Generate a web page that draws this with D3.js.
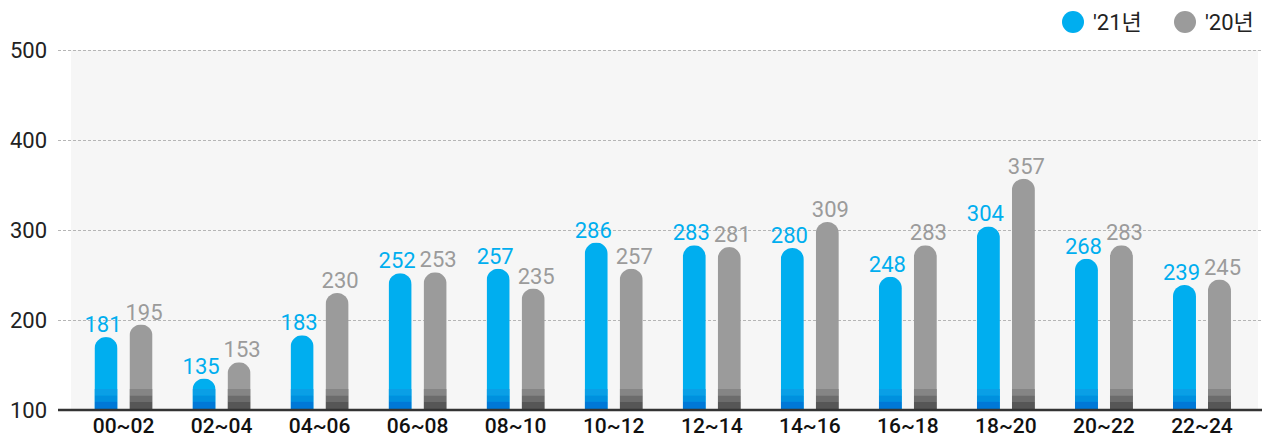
<!DOCTYPE html>
<html>
<head>
<meta charset="utf-8">
<script src="https://cdn.jsdelivr.net/npm/d3@7"></script>
<style>
  body { margin: 0; background: #fff; }
  text { font-family: Roboto, "Noto Sans CJK KR", sans-serif; }
</style>
</head>
<body>
<div id="chart-area"></div>
<script>
// data
let hours = ["00~02","02~04","04~06","06~08","08~10","10~12","12~14","14~16","16~18","18~20","20~22","22~24"];
let y21 = [181,135,183,252,257,286,283,280,248,304,268,239];
let y20 = [195,153,230,253,235,257,281,309,283,357,283,245];
let yTicks = [100,200,300,400,500];
let seriesNames = ["'21년", "'20년"];

let width = 1267, height = 439;

let svg = d3.select("#chart-area").append("svg")
    .attr("width", width)
    .attr("height", height);

// scales
let x = d3.scaleBand()
    .domain(hours)
    .range([74.5, 1251]);

let y = d3.scaleLinear()
    .domain([100, 500])
    .range([410, 50]);

let barW = 23, gap = 12;

// plot background
svg.append("rect")
    .attr("x", 71).attr("y", y(500))
    .attr("width", 1258 - 71).attr("height", y(100) - y(500))
    .attr("fill", "#f6f6f6");

// grid
svg.selectAll(".grid")
    .data(yTicks.filter(d => d > 100))
    .enter().append("line")
    .attr("x1", 58).attr("x2", 1262)
    .attr("y1", d => y(d) + 0.5).attr("y2", d => y(d) + 0.5)
    .attr("stroke", "#b5b5b5")
    .attr("stroke-dasharray", "3,2");

// y axis labels
let yAxis = d3.axisLeft(y).tickValues(yTicks).tickSize(0).tickPadding(0);
let yG = svg.append("g").attr("transform", "translate(47,0)").call(yAxis);
yG.select(".domain").remove();
yG.selectAll("text")
    .style("font-size", "22px")
    .style("font-family", "Roboto, sans-serif")
    .attr("fill", "#222");

// bar shape with rounded top
function barPath(x0, top, bottom, w) {
  let r = w / 2;
  return "M" + x0 + "," + bottom +
    "V" + (top + r) +
    "A" + r + "," + r + " 0 0 1 " + (x0 + w) + "," + (top + r) +
    "V" + bottom + "Z";
}

let series = [
  {vals: y21, off: -gap / 2 - barW, shift: -3, fill: "#00aeef", label: "#00aeef", bands: ["#0a9fe6", "#0090de", "#0078d7"]},
  {vals: y20, off: gap / 2, shift: 3, fill: "#9b9b9b", label: "#9b9b9b", bands: ["#858585", "#6c6c6c", "#565656"]}
];
let bandEdges = [389, 395.5, 401.5, 410];

series.forEach((s, si) => {
  let g = svg.append("g");
  hours.forEach((h, i) => {
    let cx = x(h) + x.bandwidth() / 2 + s.off;
    let top = y(s.vals[i]);
    let id = "clip" + si + "_" + i;
    svg.append("clipPath").attr("id", id)
      .append("path").attr("d", barPath(cx, top, y(100), barW));
    let bg = g.append("g").attr("clip-path", "url(#" + id + ")");
    bg.append("rect")
      .attr("x", cx).attr("y", top)
      .attr("width", barW).attr("height", y(100) - top)
      .attr("fill", s.fill);
    s.bands.forEach((c, k) => {
      bg.append("rect")
        .attr("x", cx).attr("y", bandEdges[k])
        .attr("width", barW).attr("height", bandEdges[k + 1] - bandEdges[k])
        .attr("fill", c);
    });
    g.append("text")
      .attr("x", cx + barW / 2 + s.shift)
      .attr("y", top - 5)
      .attr("text-anchor", "middle")
      .attr("fill", s.label)
      .style("font-size", "22px")
      .text(s.vals[i]);
  });
});

// baseline
svg.append("line")
    .attr("x1", 58).attr("x2", 1262)
    .attr("y1", y(100)).attr("y2", y(100))
    .attr("stroke", "#333").attr("stroke-width", 2.5);

// x axis labels
let xAxis = d3.axisBottom(x).tickSize(0).tickPadding(0);
let xG = svg.append("g").attr("transform", "translate(0,418)").call(xAxis);
xG.select(".domain").remove();
xG.selectAll("text")
    .attr("dy", "0.71em")
    .style("font-size", "21px")
    .style("font-weight", "500")
    .style("font-family", "Roboto, sans-serif")
    .attr("fill", "#111");

// legend
let legX = [1073, 1185];
seriesNames.forEach((n, i) => {
  svg.append("circle")
    .attr("cx", legX[i]).attr("cy", 22).attr("r", 11)
    .attr("fill", series[i].fill);
  svg.append("text")
    .attr("x", legX[i] + 20).attr("y", 22)
    .attr("dy", "0.35em")
    .attr("fill", "#222")
    .style("font-size", "22px")
    .text(n);
});
</script>
</body>
</html>
